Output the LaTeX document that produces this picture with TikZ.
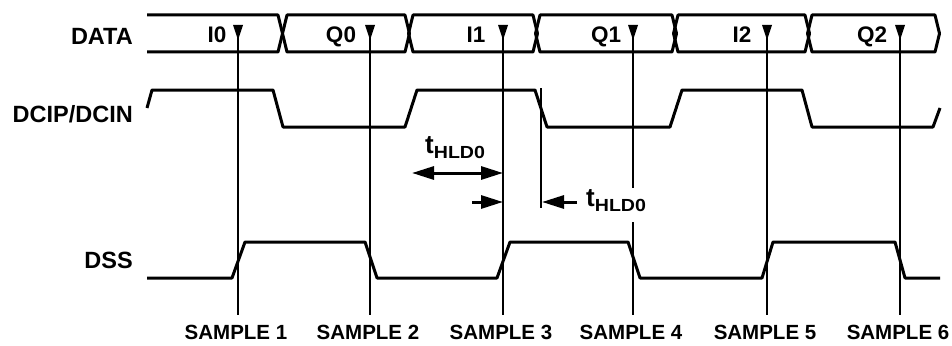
\documentclass[tikz,border=0pt]{standalone}
\usepackage{fontspec}
\setmainfont{Liberation Sans}
\usetikzlibrary{arrows.meta}
\newcommand{\hldlabel}{\fontsize{26}{26}\selectfont\bfseries t\raisebox{-5pt}{\scalebox{1.12}[1]{\fontsize{17.5}{17.5}\selectfont HLD0}}}
\begin{document}
\begin{tikzpicture}[x=1pt,y=-1pt,
  wave/.style={line width=3pt,line join=round},
  sline/.style={line width=2pt},
  sig/.style={anchor=base east,inner sep=0pt,font=\fontsize{23.5}{24}\selectfont\bfseries},
  dlab/.style={anchor=base,inner sep=0pt,font=\fontsize{22.5}{23}\selectfont\bfseries},
  slab/.style={anchor=base,inner sep=0pt,font=\fontsize{20.5}{21}\selectfont\bfseries},
  marker/.style={fill=black},
  dim/.style={line width=3pt,{Triangle[length=22pt,width=13pt]}-{Triangle[length=22pt,width=13pt]}},
  dimr/.style={line width=3pt,-{Triangle[length=22pt,width=13pt]}}
]
\useasboundingbox (0,0) rectangle (952,345);
% signal names
\node[sig] (ndata) at (133,45) {DATA};
\node[sig] (ndcip) at (133,122) {DCIP/DCIN};
\node[sig] (ndss) at (133,268) {DSS};
% data bus
\draw[wave] (147,15) -- (278,15) -- (282.5,33.5) -- (278,52) -- (147,52);
\foreach \a/\b in {287/405,413/533,540/672,678/805,812/935}{
  \draw[wave] (\a,15) -- (\b,15) -- (\b+4.5,33.5) -- (\b,52) -- (\a,52) -- (\a-4.5,33.5) -- cycle;
}
\node[dlab] (d0) at (217,43) {I0};
\node[dlab] (d1) at (341,43) {Q0};
\node[dlab] (d2) at (476,43) {I1};
\node[dlab] (d3) at (606,43) {Q1};
\node[dlab] (d4) at (742,43) {I2};
\node[dlab] (d5) at (872,43) {Q2};
% sample lines and markers
\foreach \x/\n in {238/1,370/2,503/3,767/5,900/6}{
  \coordinate (st\n) at (\x,25);
  \coordinate (sb\n) at (\x,315);
  \draw[sline] (st\n) -- (sb\n);
  \fill[marker] (\x-5,25) -- (\x+5,25) -- (\x,40) -- cycle;
}
\coordinate (st4) at (633,25);
\coordinate (sm4a) at (633,188);
\coordinate (sm4b) at (633,222);
\coordinate (sb4) at (633,315);
\draw[sline] (st4) -- (sm4a);
\draw[sline] (sm4b) -- (sb4);
\fill[marker] (628,25) -- (638,25) -- (633,40) -- cycle;
% DCIP/DCIN
\draw[wave] (147,108) -- (152,90) -- (273,90) -- (283,127) -- (405,127) -- (417,90) -- (535,90) -- (547,127) -- (670,127) -- (682,90) -- (802,90) -- (812,127) -- (933,127) -- (940,108);
\coordinate (ht) at (541,88);
\coordinate (hb) at (541,208);
\draw[sline] (ht) -- (hb);
% DSS
\draw[wave] (147,278) -- (232,278) -- (245,242) -- (365,242) -- (377,278) -- (497,278) -- (510,242) -- (628,242) -- (640,278) -- (762,278) -- (773,242) -- (895,242) -- (905,278) -- (940,278);
% hold-time annotations
\coordinate (a1l) at (412,173);
\coordinate (a1r) at (503,173);
\draw[dim] (a1l) -- (a1r);
\coordinate (a2l) at (472,202);
\coordinate (a2r) at (503,202);
\draw[dimr] (a2l) -- (a2r);
\coordinate (a3r) at (577,202);
\coordinate (a3l) at (542,202);
\draw[dimr] (a3r) -- (a3l);
\node[anchor=base west,inner sep=0pt] (h1) at (425,153) {\hldlabel};
\node[anchor=base west,inner sep=0pt] (h2) at (586,206) {\hldlabel};
% sample labels
\node[slab] (s1) at (236,339) {SAMPLE 1};
\node[slab] (s2) at (368,339) {SAMPLE 2};
\node[slab] (s3) at (501,339) {SAMPLE 3};
\node[slab] (s4) at (631,339) {SAMPLE 4};
\node[slab] (s5) at (765,339) {SAMPLE 5};
\node[slab] (s6) at (898,339) {SAMPLE 6};
\end{tikzpicture}
\end{document}
